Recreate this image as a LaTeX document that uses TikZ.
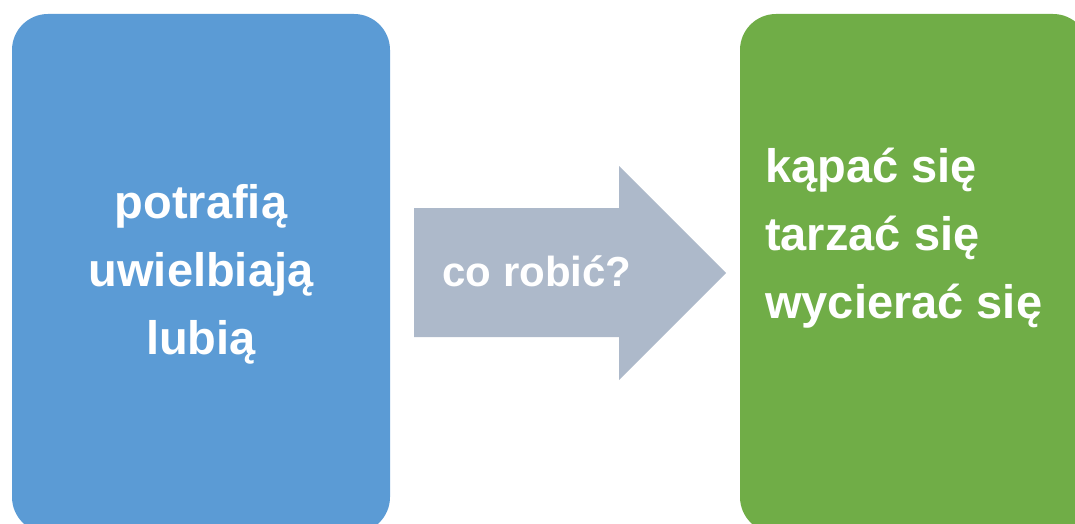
\documentclass[tikz,border=0pt]{standalone}
\usepackage{fontspec}
\setmainfont{Liberation Sans}
\usetikzlibrary{positioning}
\definecolor{sky_blue}{RGB}{91, 155, 213}
\definecolor{grass_green}{RGB}{112, 173, 71}
\definecolor{slate_gray}{RGB}{173, 185, 202}

\begin{document}
\begin{tikzpicture}[
    x=1pt, y=-1pt,
    % Define the panel style
    panel/.style={
        rectangle,
        rounded corners=36pt,
        fill=#1,
        minimum height=519pt,
        inner sep=0pt
    },
    % Word list style
    words/.style={
        text=white,
        inner sep=0pt,
        font=\bfseries\fontsize{47}{68}\selectfont
    }
]

\useasboundingbox (0,0) rectangle (1075,524);
\clip (0,0) rectangle (1075,524);

% Left panel
\node[panel=sky_blue, minimum width=378pt] (verbs) at (201,273.5) {};
\node[words, align=center] (verbs text) at (201,274) {potrafią\\uwielbiają\\lubią};

% Middle arrow
\fill[slate_gray] (414,208) -- (619,208) -- (619,166) -- (726,273) -- (619,380) -- (619,337) -- (414,337) -- cycle;
\node[words, font=\bfseries\fontsize{42}{50}\selectfont] (question) at (537,271.5) {co robić?};

% Right panel
\node[panel=grass_green, minimum width=349pt] (actions) at (914.5,273.5) {};
\node[words, align=left, anchor=west] (actions text) at (765,238) {kąpać się\\tarzać się\\wycierać się};

\end{tikzpicture}
\end{document}
